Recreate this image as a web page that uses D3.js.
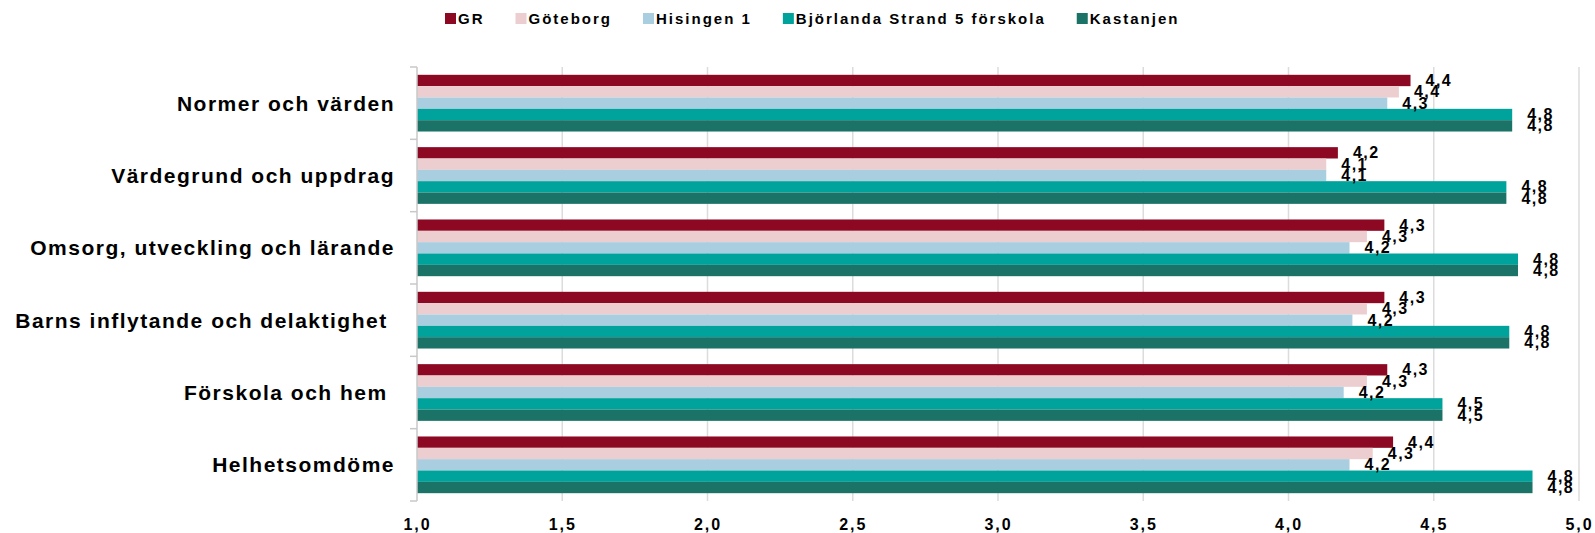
<!DOCTYPE html>
<html>
<head>
<meta charset="utf-8">
<script src="https://cdn.jsdelivr.net/npm/d3@7"></script>
<style>
  body { margin: 0; background: #fff; }
  text { font-family: "Liberation Sans", Arial, sans-serif; fill: #000; }
</style>
</head>
<body>
<div id="chart"></div>
<script>
// categories, top to bottom (trailing spaces are in the original labels)
const categories = [
  'Normer och värden',
  'Värdegrund och uppdrag',
  'Omsorg, utveckling och lärande',
  'Barns inflytande och delaktighet ',
  'Förskola och hem ',
  'Helhetsomdöme'
];

const seriesNames = ['GR', 'Göteborg', 'Hisingen 1', 'Björlanda Strand 5 förskola', 'Kastanjen'];
const seriesColors = ['#8c0823', '#ecced0', '#a8cee0', '#00a39b', '#1b7367'];

const grValues        = [4.42, 4.17, 4.33, 4.33, 4.34, 4.36];
const goteborgValues  = [4.38, 4.13, 4.27, 4.27, 4.27, 4.29];
const hisingenValues  = [4.34, 4.13, 4.21, 4.22, 4.19, 4.21];
const bjorlandaValues = [4.77, 4.75, 4.79, 4.76, 4.53, 4.84];
const kastanjenValues = [4.77, 4.75, 4.79, 4.76, 4.53, 4.84];

const xTicks = [1.0, 1.5, 2.0, 2.5, 3.0, 3.5, 4.0, 4.5, 5.0];

const allValues = [grValues, goteborgValues, hisingenValues, bjorlandaValues, kastanjenValues];

const width = 1595;
const height = 533;
const plotTop = 67;
const plotBottom = 501;

const fmt = d => d.toFixed(1).replace('.', ',');

let svg = d3.select('#chart')
            .append('svg')
            .attr('width', width)
            .attr('height', height);

let x = d3.scaleLinear()
          .domain([1, 5])
          .range([417, 1579]);

let y = d3.scaleBand()
          .domain(categories)
          .range([plotTop, plotBottom])
          .paddingInner(0.216)
          .paddingOuter(0.108);

let yInner = d3.scaleBand()
               .domain(seriesNames)
               .range([0, y.bandwidth()]);

// vertical gridlines
svg.append('g')
   .selectAll('line')
   .data(xTicks.slice(1))
   .join('line')
     .attr('x1', d => x(d))
     .attr('x2', d => x(d))
     .attr('y1', plotTop)
     .attr('y2', plotBottom)
     .attr('stroke', '#dcdcdc')
     .attr('stroke-width', 1.5);

// bars
let rows = [];
categories.forEach((c, i) => {
  seriesNames.forEach((s, j) => {
    rows.push({cat: c, series: s, value: allValues[j][i], color: seriesColors[j]});
  });
});

svg.append('g')
   .selectAll('rect')
   .data(rows)
   .join('rect')
     .attr('x', x(1))
     .attr('y', d => y(d.cat) + yInner(d.series))
     .attr('width', d => x(d.value) - x(1))
     .attr('height', yInner.bandwidth())
     .attr('fill', d => d.color);

// left axis line with ticks at category boundaries
let boundaries = categories.map(c => y(c) - y.step() * y.paddingInner() / 2);
boundaries.push(plotBottom);

let yAxis = svg.append('g');
yAxis.append('line')
     .attr('x1', x(1))
     .attr('x2', x(1))
     .attr('y1', plotTop)
     .attr('y2', plotBottom)
     .attr('stroke', '#c8c8c8')
     .attr('stroke-width', 1.5);
yAxis.selectAll('.tick')
     .data(boundaries)
     .join('line')
       .attr('class', 'tick')
       .attr('x1', x(1) - 7)
       .attr('x2', x(1))
       .attr('y1', d => d)
       .attr('y2', d => d)
       .attr('stroke', '#c8c8c8')
       .attr('stroke-width', 1.5);

// category labels
svg.append('g')
   .selectAll('text')
   .data(categories)
   .join('text')
     .attr('x', 395)
     .attr('y', d => y(d) + y.bandwidth() / 2)
     .attr('text-anchor', 'end')
     .attr('dominant-baseline', 'central')
     .style('white-space', 'pre')
     .style('font-size', '21px')
     .style('font-weight', 'bold')
     .style('letter-spacing', '1.5px')
     .text(d => d);

// value labels
svg.append('g')
   .selectAll('text')
   .data(rows)
   .join('text')
     .attr('x', d => x(d.value) + 15)
     .attr('y', d => y(d.cat) + yInner(d.series) + yInner.bandwidth() / 2)
     .attr('dominant-baseline', 'central')
     .style('font-size', '16px')
     .style('font-weight', 'bold')
     .style('letter-spacing', '1.5px')
     .text(d => fmt(d.value));

// x axis
let xAxis = svg.append('g')
   .attr('transform', 'translate(0,' + plotBottom + ')')
   .call(d3.axisBottom(x).tickValues(xTicks).tickFormat(fmt).tickSize(0).tickPadding(18));
xAxis.select('.domain').remove();
xAxis.selectAll('text')
     .style('font-size', '16px')
     .style('font-weight', 'bold')
     .style('letter-spacing', '2px')
     .style('font-family', '"Liberation Sans", Arial, sans-serif');

// legend
let legend = svg.append('g');
let items = legend.selectAll('g')
   .data(seriesNames)
   .join('g');
items.append('rect')
     .attr('width', 11)
     .attr('height', 11)
     .attr('y', 13)
     .attr('fill', (d, i) => seriesColors[i]);
items.append('text')
     .attr('x', 13)
     .attr('y', 24)
     .style('font-size', '15px')
     .style('font-weight', 'bold')
     .style('letter-spacing', '2px')
     .text(d => d);

let offset = 445;
items.each(function() {
  let g = d3.select(this);
  g.attr('transform', 'translate(' + offset + ',0)');
  offset += 13 + g.select('text').node().getComputedTextLength() + 31;
});
</script>
</body>
</html>
